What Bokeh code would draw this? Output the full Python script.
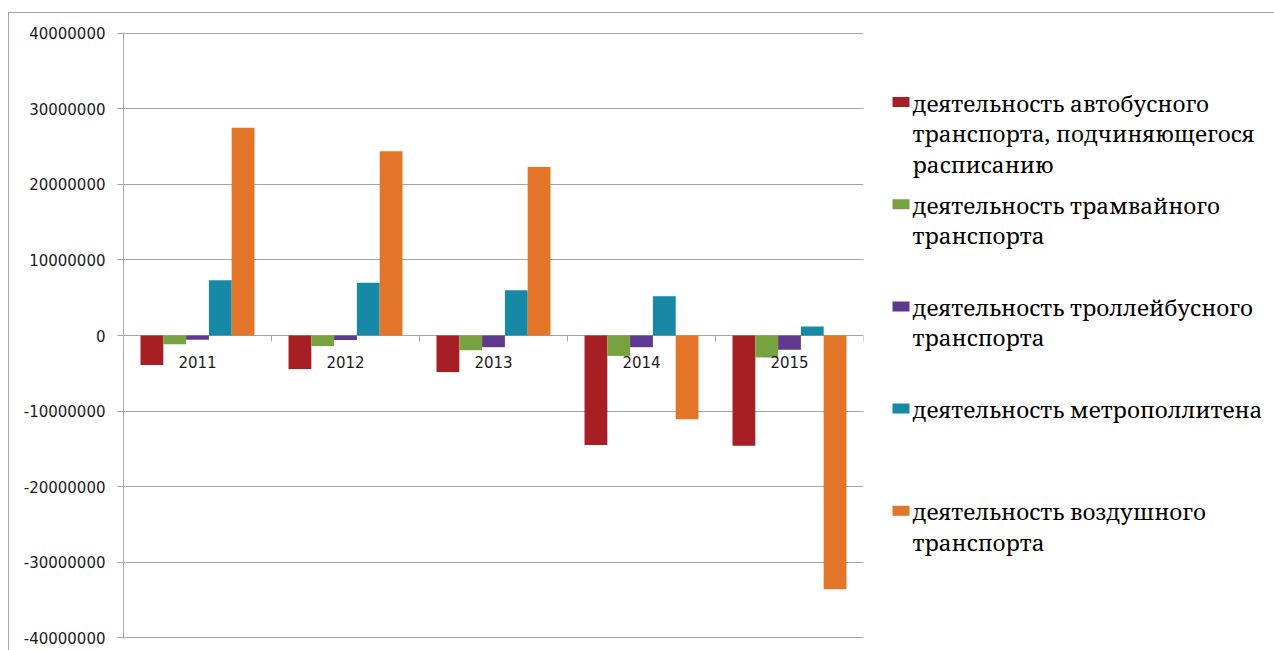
from bokeh.plotting import figure
from bokeh.layouts import row
from bokeh.models import Range1d, FixedTicker, NumeralTickFormatter
from bokeh.core.properties import value
from bokeh.embed import file_html
from bokeh.resources import INLINE

# ---- data ----
years = ["2011", "2012", "2013", "2014", "2015"]
bus = [-3.9e6, -4.45e6, -4.85e6, -14.5e6, -14.6e6]
tram = [-1.15e6, -1.4e6, -1.95e6, -2.7e6, -2.9e6]
trolley = [-0.55e6, -0.6e6, -1.55e6, -1.55e6, -1.9e6]
metro = [7.3e6, 7.0e6, 6.0e6, 5.2e6, 1.2e6]
air = [27.5e6, 24.4e6, 22.3e6, -11.1e6, -33.6e6]
series_names = [
    "деятельность автобусного\nтранспорта, подчиняющегося\nрасписанию",
    "деятельность трамвайного\nтранспорта",
    "деятельность троллейбусного\nтранспорта",
    "деятельность метрополлитена",
    "деятельность воздушного\nтранспорта",
]
y_ticks = [-40e6, -30e6, -20e6, -10e6, 0, 10e6, 20e6, 30e6, 40e6]

series = [bus, tram, trolley, metro, air]
colors = ["#a81e25", "#78a23f", "#5f3990", "#1789a6", "#e27527"]

GRID = "#a6a6a6"
FONT = "DejaVu Sans"
SERIF = "Noto Serif"
pad = 0.12e6

p = figure(width=861, height=638, x_range=Range1d(0, len(years)),
           y_range=Range1d(y_ticks[0] - pad, y_ticks[-1] + pad),
           output_backend="svg", toolbar_location=None,
           min_border_left=114, min_border_right=7, min_border_top=19, min_border_bottom=13)
p.outline_line_color = None
p.xaxis.visible = False
p.xgrid.visible = False
p.ygrid.grid_line_color = GRID
p.yaxis.ticker = FixedTicker(ticks=y_ticks)
p.yaxis.formatter = NumeralTickFormatter(format="0")
p.yaxis.axis_line_color = GRID
p.yaxis.major_tick_line_color = GRID
p.yaxis.major_tick_out = 6
p.yaxis.major_tick_in = 0
p.yaxis.minor_tick_line_color = None
p.yaxis.major_label_standoff = 12
p.yaxis.major_label_text_font = FONT
p.yaxis.major_label_text_font_size = "15px"
p.yaxis.major_label_text_color = "#1a1a1a"

n = len(series)
bw = 0.154
centers = [i + 0.5 for i in range(len(years))]
for k, (vals, col) in enumerate(zip(series, colors)):
    xs = [c + (k - (n - 1) / 2) * bw for c in centers]
    p.vbar(x=xs, width=bw, bottom=0, top=vals, fill_color=col, line_color=None)

# category boundary tick marks on the zero line
bounds = list(range(len(years) + 1))
p.segment(x0=bounds, x1=bounds, y0=[0] * len(bounds), y1=[-0.8e6] * len(bounds),
          line_color=GRID, line_width=1)

p.text(x=centers, y=[0] * len(years), text=years, text_align="center",
       text_baseline="middle", y_offset=26, text_font=value(FONT),
       text_font_size="15px", text_color="#1a1a1a")

# ---- legend panel (frame aligned with main frame: screen y 32..638) ----
leg = figure(width=404, height=638, x_range=Range1d(0, 404), y_range=Range1d(638, 32),
             output_backend="svg", toolbar_location=None,
             min_border=0, min_border_left=0, min_border_right=0,
             min_border_top=0, min_border_bottom=0)
leg.title.visible = False
leg.axis.visible = False
leg.grid.visible = False
leg.outline_line_color = None

step = 102.2
line_h = 30.5
ys = [101.5 + i * step for i in range(n)]
leg.rect(x=[30.5] * n, y=ys, width=17, height=10, fill_color=colors, line_color=None)
lx, ly, lt = [], [], []
for y0, name in zip(ys, series_names):
    for j, part in enumerate(name.split("\n")):
        lx.append(42)
        ly.append(y0 + 1 + j * line_h)
        lt.append(part)
leg.text(x=lx, y=ly, text=lt, text_align="left", text_baseline="middle",
         text_font=value(SERIF), text_font_size="22.5px", text_color="#000000")

layout = row(p, leg, margin=(12, 0, 0, 8),
             styles={"border-left": "1px solid #a6a6a6", "border-top": "1px solid #a6a6a6"})

open("out.html", "w").write(file_html(layout, INLINE))
